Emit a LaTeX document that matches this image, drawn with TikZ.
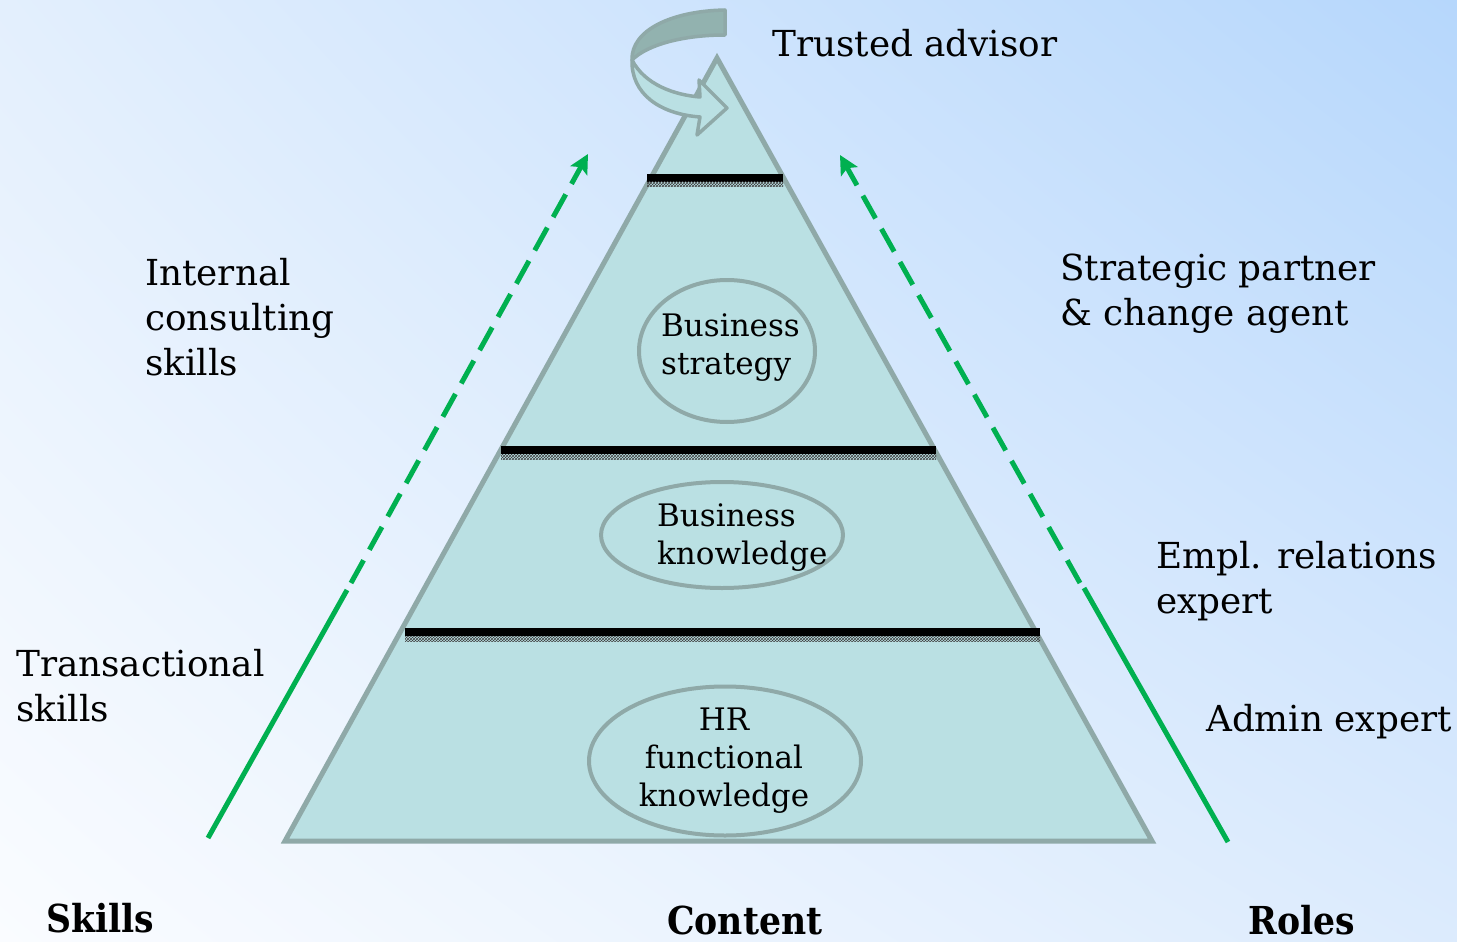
\documentclass[tikz,border=0pt]{standalone}
\usepackage{fontspec}
\setmainfont{DejaVu Serif}
\newfontfamily\headfont{DejaVu Serif Condensed}
\usetikzlibrary{arrows.meta,patterns,shapes.geometric,shadings}

\definecolor{bgTL}{HTML}{E3EFFD}
\definecolor{bgTR}{HTML}{B6D7FC}
\definecolor{bgBL}{HTML}{FAFCFF}
\definecolor{bgBR}{HTML}{DCEBFD}
\definecolor{tealfill}{HTML}{BAE0E3}
\definecolor{tealedge}{HTML}{8FA9A8}
\definecolor{tealdark}{HTML}{92B2AF}
\definecolor{arrowgreen}{HTML}{00B050}

% multi-line nodes are anchored at the baseline of their last line
\tikzset{
  lbl/.style={font=\fontsize{35.8}{45}\selectfont, align=left, inner sep=0pt, anchor=base west},
  inlbl/.style={font=\fontsize{31}{38}\selectfont, inner sep=0pt, anchor=base west, align=left},
  head/.style={font=\headfont\fontsize{38.5}{44}\selectfont\bfseries, inner sep=0pt, anchor=base west},
  layer/.style={ellipse, draw=tealedge, line width=4pt, fill=tealfill, inner sep=0pt},
  divider/.style={line width=8pt, black},
  hatch/.style={pattern=crosshatch, pattern color=black!75},
  greenline/.style={arrowgreen, line width=5pt},
  greendash/.style={greenline, dash pattern=on 26pt off 12pt,
    -{Stealth[length=19pt,width=19pt,inset=4pt]}},
  ribbon/.style={draw=tealedge, line width=3.5pt, line join=round}
}

\begin{document}
\begin{tikzpicture}[x=1pt,y=-1pt]
  % backdrop
  \shade[upper left=bgTL, upper right=bgTR, lower left=bgBL, lower right=bgBR]
    (0,0) rectangle (1457,942);
  \useasboundingbox (0,0) rectangle (1457,942);

  % pyramid
  \coordinate (apex) at (717,58);
  \coordinate (bl) at (285,841);
  \coordinate (br) at (1152,841);
  \draw[tealedge, fill=tealfill, line width=5pt, line join=miter]
    (bl) -- (apex) -- (br) -- cycle;

  % level dividers
  \draw[divider] (647,177.5) -- (783,177.5);
  \fill[hatch] (647,181.5) rectangle (783,186);
  \draw[divider] (501,450) -- (936,450);
  \fill[hatch] (501,454) rectangle (936,459);
  \draw[divider] (405,632) -- (1040,632);
  \fill[hatch] (405,636) rectangle (1040,641);

  % content levels
  \node[layer, minimum width=176pt, minimum height=142pt] (strategy) at (727,351) {};
  \node[layer, minimum width=242pt, minimum height=106pt] (knowledge) at (722,535) {};
  \node[layer, minimum width=272pt, minimum height=149pt] (hr) at (725,761) {};
  \node[inlbl] (strategytxt) at (661,374) {Business\\strategy};
  \node[inlbl] (knowledgetxt) at (657,564) {Business\\knowledge};
  \node[inlbl, align=center, anchor=base] (hrtxt) at (724,806) {HR\\functional\\knowledge};

  % curved arrow around the top
  \filldraw[ribbon, fill=tealdark]
    (725,10) .. controls (672,11) and (631,30) .. (632,60)
    .. controls (648,44) and (685,35) .. (725,35) -- cycle;
  \filldraw[ribbon, fill=tealfill]
    (632,60) .. controls (645,85) and (675,95) .. (700,97)
    -- (699,80) -- (727,108) -- (697,135) -- (700,117)
    .. controls (660,114) and (631,94) .. (632,60) -- cycle;

  % skills and roles arrows
  \coordinate (lstart) at (208,838);
  \coordinate (lbreak) at (347,590);
  \coordinate (lresume) at (351,583);
  \coordinate (ltip) at (588,154);
  \draw[greenline] (lstart) -- (lbreak);
  \draw[greendash] (lresume) -- (ltip);
  \coordinate (rstart) at (1228,842);
  \coordinate (rbreak) at (1084,588);
  \coordinate (rresume) at (1080,583);
  \coordinate (rtip) at (840,155);
  \draw[greenline] (rstart) -- (rbreak);
  \draw[greendash] (rresume) -- (rtip);

  % labels
  \node[lbl] (trusted) at (772,57) {Trusted advisor};
  \node[lbl] (consulting) at (145,375) {Internal\\consulting\\skills};
  \node[lbl] (transactional) at (16,721) {Transactional\\skills};
  \node[lbl] (partner) at (1060,325) {Strategic partner\\\& change agent};
  \node[lbl] (relations) at (1156,613) {Empl. relations\\expert};
  \node[lbl] (admin) at (1206,731) {Admin expert};

  % column headings
  \node[head] (skills) at (46,932) {Skills};
  \node[head] (content) at (667,934) {Content};
  \node[head] (roles) at (1248,934) {Roles};
\end{tikzpicture}
\end{document}
